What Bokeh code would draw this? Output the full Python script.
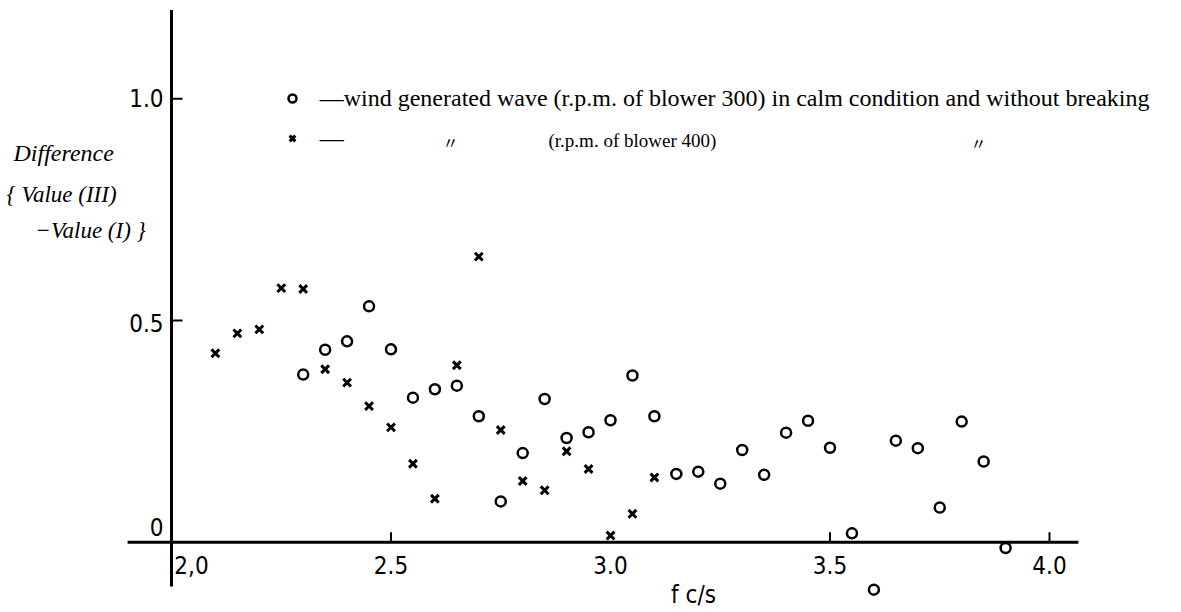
from bokeh.plotting import figure
from bokeh.models import Range1d, Label, Legend, LegendItem, ColumnDataSource
from bokeh.core.properties import value
from bokeh.embed import file_html
from bokeh.resources import INLINE

# ---- data ----
circle_f = [2.30, 2.35, 2.40, 2.45, 2.50, 2.55, 2.60, 2.65, 2.70, 2.75, 2.80,
            2.85, 2.90, 2.95, 3.00, 3.05, 3.10, 3.15, 3.20, 3.25, 3.30, 3.35,
            3.40, 3.45, 3.50, 3.55, 3.60, 3.65, 3.70, 3.75, 3.80, 3.85, 3.90]
circle_d = [0.378, 0.434, 0.453, 0.532, 0.435, 0.326, 0.345, 0.353, 0.284, 0.092, 0.201,
            0.323, 0.235, 0.248, 0.275, 0.376, 0.284, 0.154, 0.159, 0.132, 0.208, 0.152,
            0.247, 0.274, 0.213, 0.020, -0.107, 0.229, 0.212, 0.078, 0.272, 0.182, -0.013]
cross_f = [2.10, 2.15, 2.20, 2.25, 2.30, 2.35, 2.40, 2.45, 2.50, 2.55, 2.60,
           2.65, 2.70, 2.75, 2.80, 2.85, 2.90, 2.95, 3.00, 3.05, 3.10]
cross_d = [0.426, 0.471, 0.480, 0.573, 0.571, 0.390, 0.360, 0.307, 0.259, 0.177, 0.098,
           0.399, 0.644, 0.253, 0.138, 0.117, 0.205, 0.165, 0.015, 0.064, 0.146]

x_tick_values = [2.5, 3.5, 4.0]
x_label_values = [2.0, 2.5, 3.0, 3.5, 4.0]
x_tick_labels = ["2,0", "2.5", "3.0", "3.5", "4.0"]
y_tick_values = [0.5, 1.0]
y_label_values = [0.0, 0.5, 1.0]
y_tick_labels = ["0", "0.5", "1.0"]

legend_text_1 = "\u2014wind generated wave (r.p.m. of blower 300) in calm condition and without breaking"
legend_text_2 = "\u2014"
legend_text_2b = "(r.p.m. of blower 400)"
ditto = "\u3003"
x_title = "f c/s"
y_title = ["Difference", "{ Value (III)", "\u2212Value (I) }"]

# ---- layout ----
W, H = 1181, 612
PX_X = 439.0   # pixels per unit of f
PX_Y = 443.4   # pixels per unit of difference
x0 = 2.0 - 171.0 / PX_X
x1 = x0 + W / PX_X
y1 = 541.7 / PX_Y
y0 = y1 - H / PX_Y

p = figure(width=W, height=H, x_range=Range1d(x0, x1), y_range=Range1d(y0, y1),
           output_backend="svg", toolbar_location=None, min_border=0,
           x_axis_type=None, y_axis_type=None)
p.grid.visible = False
p.outline_line_color = None
p.background_fill_color = "white"
p.border_fill_color = "white"

# axis lines
p.segment(x0=[2.0], y0=[-0.1], x1=[2.0], y1=[1.2], line_width=3, line_color="black")
p.segment(x0=[1.90], y0=[0.0], x1=[4.066], y1=[0.0], line_width=3, line_color="black")

# ticks
p.segment(x0=[2.0] * len(y_tick_values), y0=y_tick_values,
          x1=[2.0 + 11 / PX_X] * len(y_tick_values), y1=y_tick_values,
          line_width=2, line_color="black")
p.segment(x0=x_tick_values, y0=[0.0] * len(x_tick_values),
          x1=x_tick_values, y1=[10 / PX_Y] * len(x_tick_values),
          line_width=2, line_color="black")

tick_font_name = "DejaVu Sans Condensed"
tick_font = value(tick_font_name)
xs = ColumnDataSource(dict(x=x_label_values, y=[0.0] * len(x_label_values),
                           t=x_tick_labels, xo=[20, 0, 0, 0, 0]))
p.text(x="x", y="y", text="t", x_offset="xo", y_offset=23, source=xs,
       text_font=tick_font, text_font_size="24px", text_align="center",
       text_baseline="middle", text_color="black")
ys = ColumnDataSource(dict(x=[2.0] * len(y_label_values), y=y_label_values,
                           t=y_tick_labels, yo=[-15, 2, -1]))
p.text(x="x", y="y", text="t", x_offset=-8, y_offset="yo", source=ys,
       text_font=tick_font, text_font_size="24px", text_align="right",
       text_baseline="middle", text_color="black")

# data
rc = p.scatter(circle_f, circle_d, marker="circle", size=10, fill_color="white",
               line_color="black", line_width=2.5)
rx = p.scatter(cross_f, cross_d, marker="x", size=11, line_color="black", line_width=3)

# legend
legend = Legend(items=[LegendItem(label=legend_text_1, renderers=[rc]),
                       LegendItem(label=legend_text_2, renderers=[rx])],
                location=(281.7, 459), padding=0, margin=0, spacing=10,
                glyph_width=20, glyph_height=30, label_height=30, label_standoff=18,
                border_line_color=None, background_fill_alpha=0,
                label_text_font="Liberation Serif", label_text_font_size="24px",
                label_text_color="black")
p.add_layout(legend)


def lab(text, px, py, **kw):
    kw.setdefault("text_color", "black")
    return Label(x=px, y=H - py, x_units="screen", y_units="screen",
                 text=text, text_baseline="middle", **kw)


serif = "Liberation Serif"
p.add_layout(lab(ditto, 450, 141, text_font="Noto Sans CJK JP", text_font_size="16px",
                 text_align="center"))
p.add_layout(lab(legend_text_2b, 548, 140, text_font=serif, text_font_size="19px"))
p.add_layout(lab(ditto, 978, 142, text_font="Noto Sans CJK JP", text_font_size="16px",
                 text_align="center"))

# axis titles
p.add_layout(lab(y_title[0], 13, 152, text_font=serif, text_font_style="italic",
                 text_font_size="24px"))
p.add_layout(lab(y_title[1], 6, 194, text_font=serif, text_font_style="italic",
                 text_font_size="23px"))
p.add_layout(lab(y_title[2], 35, 230, text_font=serif, text_font_style="italic",
                 text_font_size="23px"))
p.add_layout(lab(x_title, 693, 594, text_font=tick_font_name, text_font_size="24px",
                 text_align="center"))

open("out.html", "w").write(file_html(p, INLINE))
